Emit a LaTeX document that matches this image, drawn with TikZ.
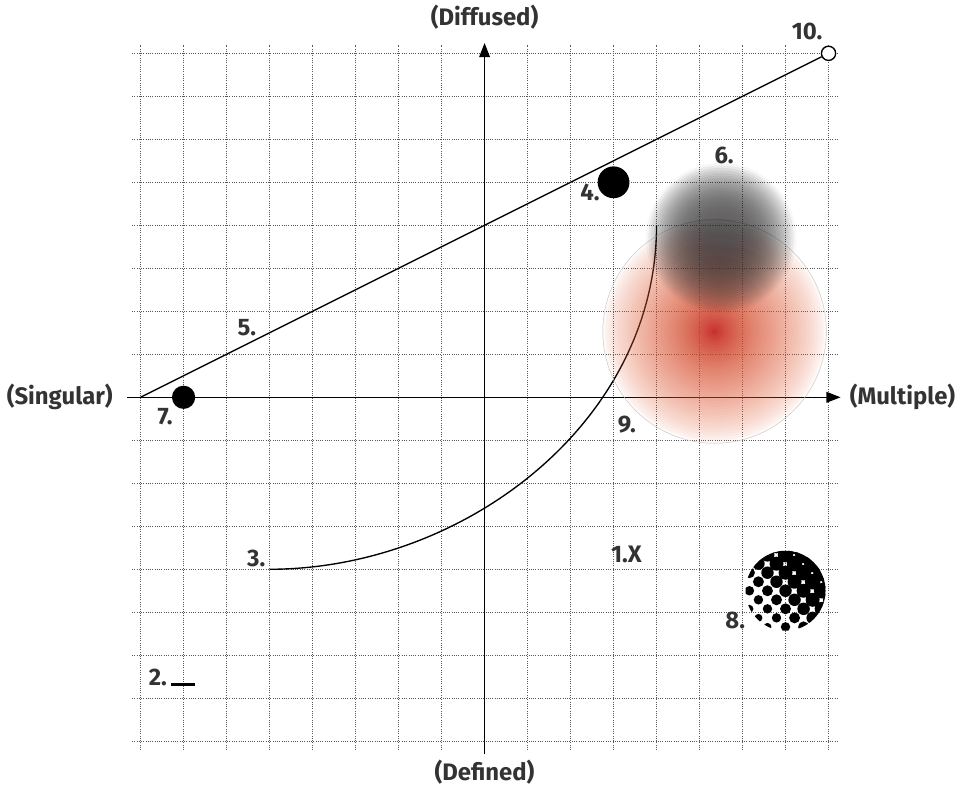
\documentclass[tikz,border=0pt]{standalone}
\usepackage{fontspec}
\setmainfont{Fira Sans}
\usetikzlibrary{arrows.meta}

\definecolor{redcore}{RGB}{190,15,30}
\definecolor{redrim}{RGB}{224,100,62}
\definecolor{greycore}{RGB}{40,38,38}

\begin{document}
\begin{tikzpicture}[
    gridline/.style={densely dotted, line width=0.5pt, black!65},
    axis/.style={line width=0.9pt, -{Triangle[length=0.33cm,width=0.25cm]}},
    stroke/.style={line width=0.9pt},
    lbl/.style={font=\fontsize{15.8}{18}\selectfont\bfseries, text=black!80, inner sep=0pt},
    spot/.style={circle, fill=black, inner sep=0pt, minimum size=#1}]
  \useasboundingbox (-11.27,-9.06) rectangle (11.29,9.24);

  \foreach \k in {-8,...,8} {
    \draw[gridline] (\k,-8.2) -- (\k,8.2);
    \draw[gridline] (-8.2,\k) -- (8.2,\k);
  }

  \coordinate (xl) at (-8.31,0);
  \coordinate (xr) at (8.28,0);
  \coordinate (yb) at (0,-8.3);
  \coordinate (yt) at (0,8.24);
  \draw[axis] (xl) -- (xr);
  \draw[axis] (yb) -- (yt);

  \node[lbl] (singular) at (-9.88,0) {(Singular)};
  \node[lbl] (multiple) at (9.72,0) {(Multiple)};
  \node[lbl] (diffused) at (0,8.84) {(Diffused)};
  \node[lbl] (defined) at (0,-8.71) {(Defined)};

  \coordinate (start5) at (-8,0);
  \node[circle, draw, fill=white, stroke, minimum size=0.33cm, inner sep=0pt] (ten) at (8,8) {};
  \draw[stroke] (start5) -- (ten);

  \node[spot=0.54cm] (seven) at (-7,0) {};
  \node[spot=0.74cm] (four) at (3,5) {};

  \coordinate (start3) at (-5,-4);
  \coordinate (end3) at (4,4);
  \draw[stroke] (start3) .. controls (-0.5,-4) and (4,-0.6) .. (end3);

  \coordinate (dashl) at (-7.3,-6.69);
  \coordinate (dashr) at (-6.73,-6.69);
  \draw[line width=2pt] (dashl) -- (dashr);

  % red glow, rings from the rim inwards
  \foreach \k in {1,...,40} {
    \pgfmathsetmacro\tnow{0.95*((\k-0.5)/40)^0.7}
    \pgfmathsetmacro\tprev{0.95*(max(0.0001,(\k-1.5)/40))^0.7}
    \pgfmathsetmacro\op{1-(1-\tnow)/(1-\tprev)}
    \pgfmathtruncatemacro\pc{100*((\k-0.5)/40)^2.5}
    \fill[redcore!\pc!redrim, fill opacity=\op] (5.35,1.53) circle ({2.6*(41-\k)/40});
  }
  \draw[black!22, line width=0.3pt] (5.35,1.53) circle (2.6);

  % grey glow
  \foreach \k in {1,...,30} {
    \pgfmathsetmacro\tnow{0.74*(1-(1-(\k-0.5)/30)^3)}
    \pgfmathsetmacro\tprev{max(0,0.74*(1-(1-(\k-1.5)/30)^3))}
    \pgfmathsetmacro\op{1-(1-\tnow)/(1-\tprev)}
    \fill[greycore, fill opacity=\op] (5.5,3.7) circle ({1.75*(31-\k)/30});
  }

  \begin{scope}
    \clip (7,-4.5) circle (0.93);
    \foreach \i in {-5,...,5}
      \foreach \j in {-5,...,5} {
        \pgfmathtruncatemacro\hsum{\i+\j}
        \ifodd\hsum\else
          \pgfmathsetmacro\hr{0.145+0.055*\hsum*0.16}
          \fill (7+\i*0.21,-4.5+\j*0.21) circle (\hr);
        \fi
      }
  \end{scope}

  \node[lbl] (n1) at (3.30,-3.66) {1.X};
  \node[lbl] (n2) at (-7.6,-6.52) {2.};
  \node[lbl] (n3) at (-5.31,-3.75) {3.};
  \node[lbl] (n4) at (2.45,4.77) {4.};
  \node[lbl] (n5) at (-5.53,1.63) {5.};
  \node[lbl] (n6) at (5.57,5.63) {6.};
  \node[lbl] (n7) at (-7.43,-0.45) {7.};
  \node[lbl] (n8) at (5.83,-5.18) {8.};
  \node[lbl] (n9) at (3.31,-0.64) {9.};
  \node[lbl] (n10) at (7.5,8.51) {10.};
\end{tikzpicture}
\end{document}
